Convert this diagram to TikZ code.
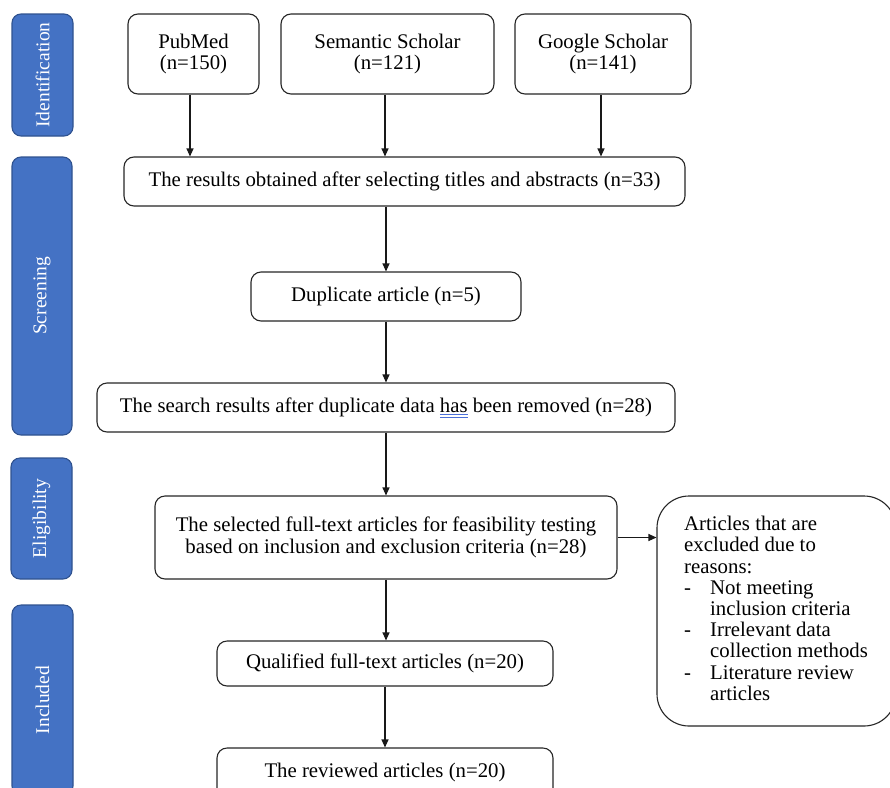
\documentclass[tikz,border=0pt]{standalone}
\usepackage{fontspec}
\setmainfont{Liberation Serif}
\usetikzlibrary{arrows.meta}
\definecolor{barfill}{HTML}{4472C4}
\definecolor{bardraw}{HTML}{2F528F}
\definecolor{spell}{HTML}{4A6FD8}
\newcommand\dblul[1]{\setbox0\hbox{#1}\rlap{\copy0}\raisebox{-2.8pt}{\color{spell}\rule{\wd0}{0.7pt}}\llap{\raisebox{-4.9pt}{\color{spell}\rule{\wd0}{0.7pt}}}}
\tikzset{
  box/.style={draw=black!85, line width=1.1pt, rounded corners=10pt, fill=white, align=center, inner sep=0pt, font=\fontsize{20.8}{21.5}\selectfont},
  bar/.style={draw=bardraw, line width=1.1pt, fill=barfill, rounded corners=9pt, text=white, inner sep=0pt, font=\fontsize{19.5}{21}\selectfont},
  arr/.style={-{Triangle[length=8pt,width=7pt]}, line width=1.1pt, draw=black!90}
}
\begin{document}
\begin{tikzpicture}[x=1pt,y=-1pt]
\useasboundingbox (0,0) rectangle (890,787);
\clip (0,0) rectangle (890,787);
% phase bars
\node[bar, rotate=90, minimum width=122, minimum height=61] (bid) at (42.5,75) {Identification};
\node[bar, rotate=90, minimum width=278, minimum height=60] (bsc) at (42,296) {Screening};
\node[bar, rotate=90, minimum width=121, minimum height=61] (bel) at (41.5,518.5) {Eligibility};
\node[bar, rotate=90, minimum width=190, minimum height=61] (bin) at (42.5,700) {Included};
% sources
\node[box, minimum width=131, minimum height=80] (pub) at (193.5,54) {PubMed\\(n=150)};
\node[box, minimum width=213, minimum height=80] (sem) at (387.5,54) {Semantic Scholar\\(n=121)};
\node[box, minimum width=176, minimum height=80] (goo) at (603,54) {Google Scholar\\(n=141)};
% flow
\node[box, minimum width=561, minimum height=49] (res) at (404.5,181.5) {The results obtained after selecting titles and abstracts (n=33)};
\node[box, minimum width=270, minimum height=49] (dup) at (386,296.5) {Duplicate article (n=5)};
\node[box, minimum width=578, minimum height=49] (sea) at (386,407.5) {The search results after duplicate data \dblul{has} been removed (n=28)};
\node[box, minimum width=462, minimum height=83] (sel) at (386,537.5) {The selected full-text articles for feasibility testing\\based on inclusion and exclusion criteria (n=28)};
\node[box, minimum width=239, minimum height=230, rounded corners=32pt] (exc) at (776.5,611) {};
\node[anchor=north west, inner sep=0pt, align=left, font=\fontsize{20.8}{21.2}\selectfont] (exctxt) at (684,516) {Articles that are\\excluded due to\\reasons:\\\makebox[26pt][l]{-}Not meeting\\\hspace*{26pt}inclusion criteria\\\makebox[26pt][l]{-}Irrelevant data\\\hspace*{26pt}collection methods\\\makebox[26pt][l]{-}Literature review\\\hspace*{26pt}articles};
\node[box, minimum width=336, minimum height=45] (qua) at (385,663.5) {Qualified full-text articles (n=20)};
\node[box, minimum width=336, minimum height=52, text depth=0pt] (rev) at (385,774) {\raisebox{8pt}{The reviewed articles (n=20)}};
% connectors
\draw[arr] (pub.south -| 190,0) -- (res.north -| 190,0);
\draw[arr] (sem.south -| 385,0) -- (res.north -| 385,0);
\draw[arr] (goo.south -| 601,0) -- (res.north -| 601,0);
\draw[arr] (res.south -| dup.north) -- (dup.north);
\draw[arr] (dup.south) -- (sea.north -| dup.south);
\draw[arr] (sea.south) -- (sel.north);
\draw[arr] (sel.south) -- (qua.north -| sel.south);
\draw[arr] (qua.south) -- (rev.north);
\draw[arr] (sel.east) -- (sel.east -| exc.west);
\end{tikzpicture}
\end{document}
